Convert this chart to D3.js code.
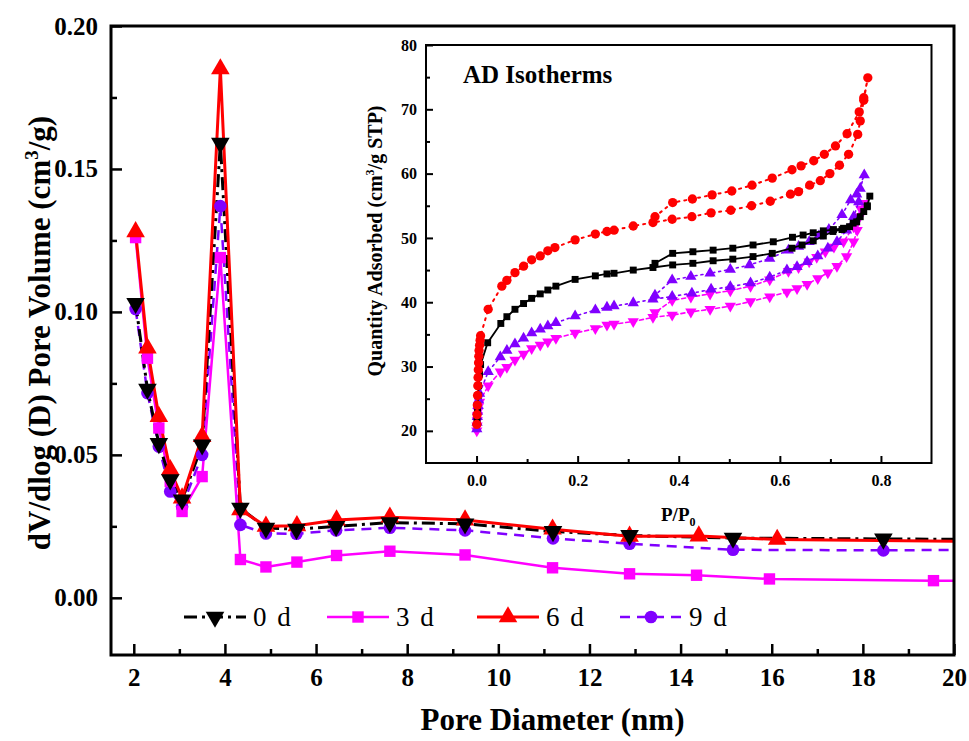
<!DOCTYPE html>
<html>
<head>
<meta charset="utf-8">
<script src="https://cdn.jsdelivr.net/npm/d3@7"></script>
<style>
  body { margin: 0; background: #fff; }
  svg { display: block; font-family: "Liberation Serif", "Times New Roman", serif; font-weight: bold; }
</style>
</head>
<body>
<svg id="chart" width="969" height="741"></svg>
<script>
// ---------- Pore size distribution (BJH), pore diameter in nm ----------
const diam0d = [2.04, 2.30, 2.55, 2.80, 3.06, 3.50, 3.90, 4.34, 4.90, 5.57, 6.44, 7.62, 9.27, 11.20, 12.88, 15.15, 18.45, 22.5];
const vol0d  = [0.103, 0.073, 0.054, 0.0413, 0.0343, 0.0535, 0.159, 0.0314, 0.0244, 0.0240, 0.0250, 0.0263, 0.0259, 0.0232, 0.0218, 0.0209, 0.0206, 0.0202];

const diam3d = [2.04, 2.30, 2.55, 2.80, 3.06, 3.50, 3.90, 4.34, 4.90, 5.58, 6.45, 7.62, 9.27, 11.19, 12.88, 14.35, 15.95, 19.55, 23.0];
const vol3d  = [0.126, 0.0838, 0.0594, 0.0407, 0.0302, 0.0424, 0.119, 0.0134, 0.0108, 0.0125, 0.0148, 0.0163, 0.0150, 0.0105, 0.0084, 0.0079, 0.0066, 0.0060, 0.0057];

const diam6d = [2.04, 2.30, 2.55, 2.80, 3.06, 3.50, 3.90, 4.34, 4.90, 5.58, 6.45, 7.62, 9.27, 11.19, 12.88, 14.40, 16.12, 21.5];
const vol6d  = [0.128, 0.0873, 0.0634, 0.0448, 0.0349, 0.0564, 0.185, 0.0308, 0.0250, 0.0252, 0.0272, 0.0282, 0.0272, 0.0240, 0.0215, 0.0216, 0.0204, 0.0196];

const diam9d = [2.04, 2.30, 2.55, 2.80, 3.06, 3.50, 3.90, 4.34, 4.90, 5.57, 6.44, 7.62, 9.27, 11.20, 12.88, 15.15, 18.45, 22.5];
const vol9d  = [0.101, 0.0716, 0.0529, 0.0372, 0.0319, 0.0500, 0.137, 0.0255, 0.0225, 0.0224, 0.0236, 0.0245, 0.0236, 0.0208, 0.0189, 0.0168, 0.0166, 0.0170];

const seriesNames = ["0 d", "3 d", "6 d", "9 d"];
const xMajorTicks = [2, 4, 6, 8, 10, 12, 14, 16, 18, 20];
const xMinorTicks = [3, 5, 7, 9, 11, 13, 15, 17, 19];
const yMajorTicks = [0.00, 0.05, 0.10, 0.15, 0.20];
const yMinorTicks = [0.025, 0.075, 0.125, 0.175];

// ---------- N2 isotherms, relative pressure P/P0 vs quantity adsorbed ----------
const isoCircleP = [0.0005, 0.001, 0.0015, 0.002, 0.0025, 0.003, 0.0035, 0.004, 0.0045, 0.005, 0.006, 0.007, 0.008, 0.023, 0.050, 0.060, 0.076, 0.093, 0.109, 0.126, 0.141, 0.155, 0.195, 0.235, 0.258, 0.272, 0.310, 0.349, 0.387, 0.426, 0.464, 0.503, 0.544, 0.581, 0.621, 0.637, 0.659, 0.680, 0.699, 0.718, 0.736, 0.754, 0.759, 0.766, 0.774,
  0.766, 0.757, 0.733, 0.710, 0.688, 0.667, 0.642, 0.624, 0.585, 0.545, 0.505, 0.466, 0.427, 0.388, 0.353];
const isoCircleQ = [21.0, 22.5, 24.0, 25.5, 27.0, 28.3, 29.5, 30.6, 31.6, 32.5, 33.3, 34.1, 34.8, 38.9, 42.5, 43.4, 44.6, 45.6, 46.6, 47.2, 48.0, 48.5, 49.7, 50.6, 51.0, 51.2, 51.85, 52.4, 52.9, 53.3, 53.9, 54.3, 55.0, 55.7, 56.8, 57.2, 58.2, 58.9, 60.0, 61.3, 63.0, 66.1, 68.2, 71.4, 74.9,
  71.8, 69.6, 66.2, 64.3, 63.0, 62.0, 61.2, 60.6, 59.3, 58.2, 57.3, 56.7, 56.05, 55.5, 53.3];

const isoSquareP = [0.001, 0.002, 0.003, 0.004, 0.006, 0.008, 0.022, 0.048, 0.060, 0.076, 0.093, 0.109, 0.126, 0.141, 0.157, 0.195, 0.235, 0.258, 0.272, 0.310, 0.349, 0.388, 0.428, 0.468, 0.507, 0.547, 0.585, 0.624, 0.644, 0.666, 0.686, 0.705, 0.723, 0.738, 0.752, 0.759, 0.766, 0.773, 0.778,
  0.773, 0.745, 0.726, 0.706, 0.686, 0.666, 0.646, 0.625, 0.587, 0.547, 0.507, 0.468, 0.428, 0.388, 0.353];
const isoSquareQ = [21.5, 23.5, 25.5, 27.0, 28.8, 30.3, 33.7, 36.7, 37.75, 38.9, 39.8, 40.6, 41.3, 41.9, 42.5, 43.55, 44.1, 44.4, 44.5, 45.0, 45.4, 45.8, 46.05, 46.45, 46.7, 47.1, 47.6, 48.4, 48.9, 49.55, 50.3, 51.0, 51.3, 51.75, 52.5, 53.3, 54.1, 54.85, 56.5,
  55.0, 52.3, 51.5, 51.3, 51.1, 50.8, 50.45, 50.1, 49.4, 48.9, 48.4, 48.1, 47.85, 47.6, 46.05];

const isoUpP = [0.0005, 0.001, 0.0015, 0.002, 0.003, 0.004, 0.006, 0.023, 0.047, 0.060, 0.076, 0.093, 0.109, 0.126, 0.141, 0.157, 0.195, 0.235, 0.258, 0.272, 0.310, 0.349, 0.387, 0.426, 0.464, 0.502, 0.542, 0.580, 0.614, 0.634, 0.654, 0.675, 0.695, 0.713, 0.732, 0.746, 0.756, 0.759, 0.767,
  0.752, 0.740, 0.723, 0.697, 0.677, 0.658, 0.637, 0.617, 0.580, 0.540, 0.502, 0.462, 0.424, 0.387, 0.353];
const isoUpQ = [20.3, 21.3, 22.2, 23.0, 23.9, 24.8, 25.8, 29.2, 31.5, 32.5, 33.5, 34.4, 35.2, 35.8, 36.3, 36.8, 37.85, 38.8, 39.2, 39.4, 39.9, 40.45, 40.9, 41.4, 42.0, 42.4, 43.0, 43.9, 45.0, 45.5, 46.3, 47.2, 48.4, 49.4, 51.2, 53.3, 55.6, 57.7, 59.8,
  56.8, 55.9, 53.6, 51.3, 50.3, 49.4, 48.65, 48.1, 46.8, 45.8, 45.1, 44.5, 44.0, 43.45, 41.1];

const isoDownP = [0.0005, 0.001, 0.0015, 0.002, 0.003, 0.004, 0.006, 0.023, 0.047, 0.060, 0.076, 0.093, 0.109, 0.126, 0.141, 0.157, 0.195, 0.235, 0.258, 0.272, 0.310, 0.349, 0.387, 0.424, 0.462, 0.502, 0.542, 0.580, 0.614, 0.634, 0.654, 0.675, 0.695, 0.713, 0.732, 0.746, 0.753, 0.758, 0.766,
  0.760, 0.746, 0.726, 0.707, 0.690, 0.673, 0.658, 0.637, 0.617, 0.580, 0.542, 0.502, 0.462, 0.424, 0.387, 0.353];
const isoDownQ = [20.0, 20.8, 21.6, 22.4, 23.1, 23.8, 24.5, 27.0, 29.2, 29.9, 31.0, 31.95, 32.8, 33.35, 33.85, 34.4, 35.2, 35.9, 36.45, 36.6, 37.0, 37.65, 38.0, 38.5, 38.9, 39.4, 40.1, 40.85, 41.6, 42.15, 42.8, 43.7, 44.6, 45.6, 47.1, 49.4, 51.2, 53.3, 55.4,
  54.5, 51.75, 49.4, 48.6, 47.85, 47.0, 46.3, 45.4, 44.8, 43.5, 42.5, 41.8, 41.3, 40.8, 40.3, 38.4];

const insetXMajor = [0.0, 0.2, 0.4, 0.6, 0.8];
const insetXMinor = [0.1, 0.3, 0.5, 0.7];
const insetYMajor = [20, 30, 40, 50, 60, 70, 80];
const insetYMinor = [25, 35, 45, 55, 65, 75];

// ---------- drawing ----------
const svg = d3.select("#chart");
const FONT = '"Liberation Serif", "Times New Roman", serif';

const frame = { left: 111, top: 26, right: 954, bottom: 655 };
const x = d3.scaleLinear().domain([1.5, 20]).range([frame.left, frame.right]);
const y = d3.scaleLinear().domain([-0.02, 0.20]).range([frame.bottom, frame.top]);

const zip = (a, b) => a.map((v, i) => [v, b[i]]);

const mainSeries = [
  { name: seriesNames[0], pts: zip(diam0d, vol0d), color: "#000000", dash: "13,5,3,5", width: 3,   symbol: "down",   size: 150 },
  { name: seriesNames[1], pts: zip(diam3d, vol3d), color: "#ff00ff", dash: null,       width: 2.5, symbol: "square", size: 130 },
  { name: seriesNames[2], pts: zip(diam6d, vol6d), color: "#ff0000", dash: null,       width: 3,   symbol: "up",     size: 150 },
  { name: seriesNames[3], pts: zip(diam9d, vol9d), color: "#8000ff", dash: "10,7",     width: 2.5, symbol: "circle", size: 125 }
];

function symbolPath(kind, size) {
  const t = kind === "square" ? d3.symbolSquare : kind === "circle" ? d3.symbolCircle : d3.symbolTriangle;
  return d3.symbol().type(t).size(size)();
}
function symbolTransform(kind, px, py) {
  if (kind === "down") return `translate(${px},${py}) rotate(180)`;
  return `translate(${px},${py})`;
}

svg.append("defs").append("clipPath").attr("id", "mainClip")
  .append("rect")
  .attr("x", frame.left).attr("y", frame.top)
  .attr("width", frame.right - frame.left).attr("height", frame.bottom - frame.top);

// axes of the main plot (inward ticks)
function styleAxis(g, fontSize, strokeW) {
  g.select(".domain").remove();
  g.selectAll(".tick line").attr("stroke", "#000").attr("stroke-width", strokeW);
  g.selectAll(".tick text").attr("fill", "#000").attr("font-size", fontSize)
    .attr("font-family", FONT).attr("font-weight", "bold");
}

svg.append("g").attr("transform", `translate(0,${frame.bottom})`)
  .call(d3.axisBottom(x).tickValues(xMajorTicks).tickSize(-11).tickPadding(13).tickFormat(d3.format("d")))
  .call(g => styleAxis(g, 25, 2.5));
svg.append("g").attr("transform", `translate(0,${frame.bottom})`)
  .call(d3.axisBottom(x).tickValues(xMinorTicks).tickSize(-6).tickFormat(""))
  .call(g => styleAxis(g, 25, 2.5));
svg.append("g").attr("transform", `translate(${frame.left},0)`)
  .call(d3.axisLeft(y).tickValues(yMajorTicks).tickSize(-11).tickPadding(13).tickFormat(d3.format(".2f")))
  .call(g => styleAxis(g, 25, 2.5));
svg.append("g").attr("transform", `translate(${frame.left},0)`)
  .call(d3.axisLeft(y).tickValues(yMinorTicks).tickSize(-6).tickFormat(""))
  .call(g => styleAxis(g, 25, 2.5));

// data lines and markers
const line = d3.line().x(d => x(d[0])).y(d => y(d[1]));
const plot = svg.append("g").attr("clip-path", "url(#mainClip)");
// draw order keeps the 6 d and 0 d traces on top of 3 d and 9 d
[3, 1, 0, 2].forEach(i => {
  const s = mainSeries[i];
  plot.append("path").datum(s.pts)
    .attr("d", line).attr("fill", "none")
    .attr("stroke", s.color).attr("stroke-width", s.width)
    .attr("stroke-dasharray", s.dash)
    .attr("stroke-linejoin", "round");
});
[3, 1, 2, 0].forEach(i => {
  const s = mainSeries[i];
  plot.append("g").selectAll("path").data(s.pts).join("path")
    .attr("d", symbolPath(s.symbol, s.size))
    .attr("transform", d => symbolTransform(s.symbol, x(d[0]), y(d[1])))
    .attr("fill", s.color);
});

// frame box
svg.append("rect")
  .attr("x", frame.left).attr("y", frame.top)
  .attr("width", frame.right - frame.left).attr("height", frame.bottom - frame.top)
  .attr("fill", "none").attr("stroke", "#000").attr("stroke-width", 3);

// axis titles
svg.append("text")
  .attr("x", (frame.left + frame.right) / 2 + 20).attr("y", 730)
  .attr("text-anchor", "middle").attr("font-size", 31).attr("font-family", FONT)
  .text("Pore Diameter (nm)");

const yTitle = svg.append("text")
  .attr("transform", "translate(50,333) rotate(-90)")
  .attr("text-anchor", "middle").attr("font-size", 31).attr("font-family", FONT);
yTitle.append("tspan").text("dV/dlog (D) Pore Volume (cm");
yTitle.append("tspan").attr("font-size", 19).attr("dy", -12).text("3");
yTitle.append("tspan").attr("dy", 12).text("/g)");

// legend row
const legend = svg.append("g").attr("transform", "translate(184,617)");
const legendStep = [0, 143, 293, 436];
mainSeries.forEach((s, i) => {
  const g = legend.append("g").attr("transform", `translate(${legendStep[i]},0)`);
  g.append("line").attr("x1", 0).attr("x2", 62).attr("y1", 0).attr("y2", 0)
    .attr("stroke", s.color).attr("stroke-width", s.width).attr("stroke-dasharray", s.dash);
  g.append("path").attr("d", symbolPath(s.symbol, s.size))
    .attr("transform", symbolTransform(s.symbol, 31, 0)).attr("fill", s.color);
  g.append("text").attr("x", 69).attr("y", 9).attr("font-size", 27)
    .attr("font-family", FONT).attr("font-weight", "normal").attr("letter-spacing", 2).text(s.name);
});

// ---------- inset: isotherms ----------
const inset = { left: 426, top: 45, right: 931.5, bottom: 463 };
const xi = d3.scaleLinear().domain([-0.1, 0.9]).range([inset.left, inset.right]);
const yi = d3.scaleLinear().domain([15, 80]).range([inset.bottom, inset.top]);

svg.append("rect")
  .attr("x", inset.left).attr("y", inset.top)
  .attr("width", inset.right - inset.left).attr("height", inset.bottom - inset.top)
  .attr("fill", "#fff");

svg.append("g").attr("transform", `translate(0,${inset.bottom})`)
  .call(d3.axisBottom(xi).tickValues(insetXMajor).tickSize(-7).tickPadding(12).tickFormat(d3.format(".1f")))
  .call(g => styleAxis(g, 16, 2));
svg.append("g").attr("transform", `translate(0,${inset.bottom})`)
  .call(d3.axisBottom(xi).tickValues(insetXMinor).tickSize(-4).tickFormat(""))
  .call(g => styleAxis(g, 16, 2));
svg.append("g").attr("transform", `translate(${inset.left},0)`)
  .call(d3.axisLeft(yi).tickValues(insetYMajor).tickSize(-7).tickPadding(9).tickFormat(d3.format("d")))
  .call(g => styleAxis(g, 16, 2));
svg.append("g").attr("transform", `translate(${inset.left},0)`)
  .call(d3.axisLeft(yi).tickValues(insetYMinor).tickSize(-4).tickFormat(""))
  .call(g => styleAxis(g, 16, 2));

const isoSeries = [
  { pts: zip(isoDownP, isoDownQ),     color: "#ff00ff", dash: "4,3", width: 1.6, symbol: "down",   size: 55 },
  { pts: zip(isoUpP, isoUpQ),         color: "#8000ff", dash: "2,4", width: 1.6, symbol: "up",     size: 55 },
  { pts: zip(isoSquareP, isoSquareQ), color: "#000000", dash: null,  width: 1.8, symbol: "square", size: 48 },
  { pts: zip(isoCircleP, isoCircleQ), color: "#ff0000", dash: "2,5", width: 2,   symbol: "circle", size: 68 }
];
const iline = d3.line().x(d => xi(d[0])).y(d => yi(d[1]));
isoSeries.forEach(s => {
  svg.append("path").datum(s.pts).attr("d", iline).attr("fill", "none")
    .attr("stroke", s.color).attr("stroke-width", s.width)
    .attr("stroke-dasharray", s.dash).attr("stroke-linecap", "round");
  svg.append("g").selectAll("path").data(s.pts).join("path")
    .attr("d", symbolPath(s.symbol, s.size))
    .attr("transform", d => symbolTransform(s.symbol, xi(d[0]), yi(d[1])))
    .attr("fill", s.color);
});

svg.append("rect")
  .attr("x", inset.left).attr("y", inset.top)
  .attr("width", inset.right - inset.left).attr("height", inset.bottom - inset.top)
  .attr("fill", "none").attr("stroke", "#000").attr("stroke-width", 2);

svg.append("text").attr("x", 463).attr("y", 83).attr("font-size", 25)
  .attr("font-family", FONT).text("AD Isotherms");

const iyTitle = svg.append("text")
  .attr("transform", "translate(382,241) rotate(-90)")
  .attr("text-anchor", "middle").attr("font-size", 20).attr("font-family", FONT);
iyTitle.append("tspan").text("Quantity Adsorbed (cm");
iyTitle.append("tspan").attr("font-size", 12).attr("dy", -8).text("3");
iyTitle.append("tspan").attr("dy", 8).text("/g STP)");

const ixTitle = svg.append("text").attr("x", 661).attr("y", 521)
  .attr("font-size", 19).attr("font-family", FONT);
ixTitle.append("tspan").text("P/P");
ixTitle.append("tspan").attr("font-size", 12).attr("dy", 5).text("0");
</script>
</body>
</html>
